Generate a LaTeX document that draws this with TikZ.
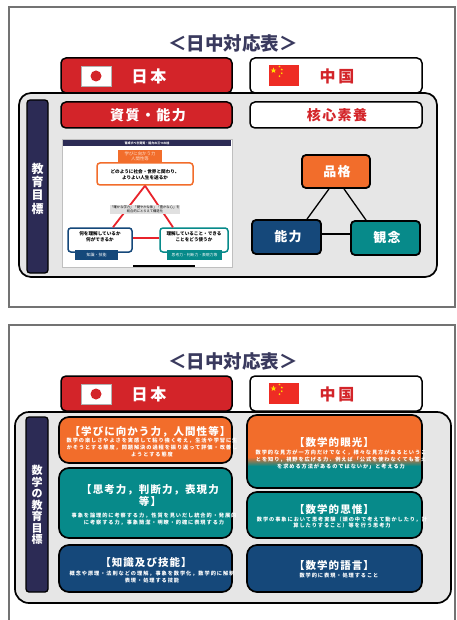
\documentclass[tikz,border=0pt]{standalone}
\usepackage{fontspec}
\setmainfont{Noto Sans CJK JP}
\newfontfamily\fsHead[LetterSpace=10]{Noto Sans CJK JP}
\newfontfamily\fsWide[LetterSpace=16]{Noto Sans CJK JP}
\newfontfamily\fsBody[LetterSpace=18]{Noto Sans CJK JP}
\usetikzlibrary{shapes.geometric}

\definecolor{jpred}{HTML}{D32429}
\definecolor{cnred}{HTML}{EE2C24}
\definecolor{cnstar}{HTML}{FFDE00}
\definecolor{orng}{HTML}{F26D2B}
\definecolor{tealc}{HTML}{078A8A}
\definecolor{navyb}{HTML}{15487A}
\definecolor{navyd}{HTML}{2C2B55}
\definecolor{panelc}{HTML}{E6E6E6}
\definecolor{titlec}{HTML}{3A3A5E}
\definecolor{slidered}{HTML}{E8232B}
\definecolor{peach}{HTML}{FFE3D0}

\tikzset{
  frame/.style={draw=black!55, line width=1.1pt},
  cbox/.style n args={2}{draw=black, line width=1.5pt, rounded corners=5pt,
    inner sep=0pt, minimum width=#1, minimum height=#2},
  pbox/.style n args={2}{draw=black, line width=1.7pt, rounded corners=10pt,
    inner sep=0pt, minimum width=#1, minimum height=#2},
  tbox/.style n args={2}{draw=black, line width=1.8pt, rounded corners=4pt,
    inner sep=0pt, minimum width=#1, minimum height=#2},
  lbl/.style={inner sep=0pt, align=center},
  bigtitle/.style={lbl, text=titlec, font=\bfseries\fontsize{18.5}{20}\selectfont},
  hdr/.style={lbl, font=\fsWide\bfseries\fontsize{16}{18}\selectfont},
  sub/.style={lbl, font=\fsHead\bfseries\fontsize{14}{16}\selectfont},
  tri/.style={lbl, text=white, font=\fsHead\bfseries\fontsize{13}{15}\selectfont},
  ttl/.style={lbl, text=white, font=\fsHead\bfseries\fontsize{10.5}{12}\selectfont},
  body/.style={lbl, text=white, font=\fsBody\bfseries\fontsize{5.2}{6.8}\selectfont},
  conn/.style={draw=black, line width=1.3pt},
  redln/.style={draw=slidered, line width=1.8pt},
  bigstar/.style={star, star points=5, star point ratio=2.5, fill=cnstar, inner sep=0pt, minimum size=6pt},
  smallstar/.style={star, star points=5, star point ratio=2.5, fill=cnstar, inner sep=0pt, minimum size=2.4pt},
}

\begin{document}
\begin{tikzpicture}[x=1pt,y=-1pt]
\useasboundingbox (0,0) rectangle (456,620);
\fill[white] (0,0) rectangle (456,620);

% ================= upper sheet =================
\draw[frame] (9,7) rectangle (455,307);
\node[bigtitle] (ttlA) at (233,43) {＜日中対応表＞};

% grey container with the two columns
\node[pbox={418}{184}, fill=panelc, rounded corners=12pt] (panA) at (228,185) {};

% country headers
\node[cbox={171}{35}, fill=jpred] (jpA) at (146.5,75.5) {};
\node[draw=black!30, fill=white, inner sep=0pt, minimum width=30, minimum height=20] (jpfA) at (96,76) {};
\node[circle, fill=jpred, inner sep=0pt, minimum size=11] (jpdA) at (jpfA.center) {};
\node[hdr, text=white] (jptA) at (149,76) {日本};

\node[cbox={172}{35}, fill=white] (cnA) at (336,75.5) {};
\node[fill=cnred, inner sep=0pt, minimum width=30, minimum height=21] (cnfA) at (284,75.5) {};
\node[bigstar] (csA0) at (273.5,70.5) {};
\node[smallstar] (csA1) at (279.5,66.5) {};
\node[smallstar] (csA2) at (281.8,69.5) {};
\node[smallstar] (csA3) at (281.8,73.2) {};
\node[smallstar] (csA4) at (279.5,76.2) {};
\node[hdr, text=jpred] (cntA) at (337,76) {中国};

% side label
\node[tbox={21}{173}, fill=navyd, line width=1.3pt, rounded corners=3pt] (barA) at (37.5,186.5) {};
\node[lbl, text=white, font=\bfseries\fontsize{12}{13.3}\selectfont] (vtA) at (37.5,188.5) {教\\育\\目\\標};

% column heads
\node[cbox={171}{26}, fill=jpred] (skA) at (146.5,115) {};
\node[sub, text=white] (sktA) at (148,115) {資質・能力};
\node[cbox={172}{26}, fill=white] (hxA) at (336,115) {};
\node[sub, text=jpred] (hxtA) at (337,115) {核心素養};

% slide of the three pillars
\node[draw=black!25, fill=white, inner sep=0pt, minimum width=170, minimum height=128] (slide) at (147,203) {};
\node[fill=navyd, inner sep=0pt, minimum width=168, minimum height=6] (slbar) at (147,143) {};
\node[lbl, text=white, font=\bfseries\fontsize{3}{3.5}\selectfont] (slttl) at (slbar) {育成すべき資質・能力の三つの柱};

\node[draw=orng, line width=1.5pt, rounded corners=3pt, fill=white, inner sep=0pt,
      minimum width=96, minimum height=22] (pq) at (145,174) {};
\node[fill=orng, inner sep=0pt, minimum width=44, minimum height=13] (pqtag) at (140,156.5) {};
\node[lbl, text=peach, font=\fontsize{4.4}{5.2}\selectfont] (pqtagt) at (pqtag) {学びに向かう力\\人間性等};
\node[lbl, font=\bfseries\fontsize{4.6}{6}\selectfont] (pqt) at (145,175) {どのように社会・世界と関わり、\\よりよい人生を送るか};

\node[draw=navyb, line width=1.5pt, rounded corners=3pt, fill=white, inner sep=0pt,
      minimum width=64, minimum height=24] (pk) at (100,240) {};
\node[lbl, font=\bfseries\fontsize{4.6}{6}\selectfont] (pkt) at (100,237) {何を理解しているか\\何ができるか};
\node[fill=navyb, inner sep=0pt, minimum width=43, minimum height=10] (pks) at (96.5,255) {};
\node[lbl, text=white, font=\fontsize{4}{5}\selectfont] (pkst) at (pks) {知識・技能};

\node[draw=tealc, line width=1.5pt, rounded corners=3pt, fill=white, inner sep=0pt,
      minimum width=68, minimum height=24] (pt) at (194,240) {};
\node[lbl, font=\bfseries\fontsize{4.6}{6}\selectfont] (ptt) at (194,237) {理解していること・できる\\ことをどう使うか};
\node[fill=tealc, inner sep=0pt, minimum width=55, minimum height=10] (pts) at (194.5,255) {};
\node[lbl, text=white, font=\fontsize{3.8}{5}\selectfont] (ptst) at (pts) {思考力・判断力・表現力等};

\draw[redln] (pq.south) -- ([xshift=13]pk.north);
\draw[redln] (pq.south) -- ([xshift=-21]pt.north);
\draw[redln] ([yshift=2]pk.east) -- ([yshift=2]pt.west);
\node[lbl, fill=black!12, inner sep=0.4pt, font=\fontsize{3.3}{4.2}\selectfont] (pmid) at (145,209.5)
  {「確かな学力」「健やかな体」「豊かな心」を\\総合的にとらえて構造化};
\node[fill=black, inner sep=0pt, minimum width=62, minimum height=2] (slscr) at (164,265.5) {};

% core competence triangle
\node[tbox={68}{33}, fill=orng] (hk) at (336,171.5) {};
\node[tri] (hkt) at (337,171.5) {品格};
\node[tbox={69}{34}, fill=navyb] (nr) at (286.5,237) {};
\node[tri] (nrt) at (288,237) {能力};
\node[tbox={69}{34}, fill=tealc] (kn) at (385.5,238) {};
\node[tri] (knt) at (387,238) {観念};
\draw[conn] ([xshift=-7]hk.south) -- ([xshift=20.5]nr.north);
\draw[conn] ([xshift=8]hk.south) -- ([xshift=-19.5]kn.north);
\draw[conn] ([yshift=3]nr.east) -- ([yshift=4]kn.west);

% ================= lower sheet =================
\draw[frame] (9,624) -- (9,325) -- (455,325) -- (455,624);
\node[bigtitle] (ttlB) at (233,361) {＜日中対応表＞};

\node[pbox={436}{191}, fill=panelc, rounded corners=14pt] (panB) at (233,507.5) {};

\node[cbox={171}{35}, fill=jpred] (jpB) at (146.5,393.5) {};
\node[draw=black!30, fill=white, inner sep=0pt, minimum width=30, minimum height=20] (jpfB) at (96,394) {};
\node[circle, fill=jpred, inner sep=0pt, minimum size=11] (jpdB) at (jpfB.center) {};
\node[hdr, text=white] (jptB) at (149,394) {日本};

\node[cbox={172}{35}, fill=white] (cnB) at (336,393.5) {};
\node[fill=cnred, inner sep=0pt, minimum width=30, minimum height=21] (cnfB) at (284,393.5) {};
\node[bigstar] (csB0) at (273.5,388.5) {};
\node[smallstar] (csB1) at (279.5,384.5) {};
\node[smallstar] (csB2) at (281.8,387.5) {};
\node[smallstar] (csB3) at (281.8,391.2) {};
\node[smallstar] (csB4) at (279.5,394.2) {};
\node[hdr, text=jpred] (cntB) at (337,394) {中国};

\node[tbox={22}{175}, fill=navyd, line width=1.3pt, rounded corners=3pt] (barB) at (37,504.5) {};
\node[lbl, text=white, font=\bfseries\fontsize{11}{11.5}\selectfont] (vtB) at (37,505) {数\\学\\の\\教\\育\\目\\標};

% Japanese side
\node[pbox={173}{46}, fill=orng] (jo) at (145.5,440) {};
\node[ttl] (jot) at (150,432) {【学びに向かう力，人間性等】};
\node[body] (job) at (152,447.5) {数学の楽しさやよさを実感して粘り強く考え，生活や学習に生\\かそうとする態度，問題解決の過程を振り返って評価・改善し\\ようとする態度};

\node[pbox={173}{70}, fill=tealc] (jt) at (145.5,503) {};
\node[ttl] (jtt) at (150,496) {【思考力，判断力，表現力\\等】};
\node[body] (jtb) at (154,519.5) {事象を論理的に考察する力，性質を見いだし統合的・発展的\\に考察する力，事象簡潔・明瞭・的確に表現する力};

\node[pbox={173}{47}, fill=navyb] (jn) at (145.5,568.5) {};
\node[ttl] (jnt) at (146,562) {【知識及び技能】};
\node[body] (jnb) at (152,577) {概念や原理・法則などの理解，事象を数学化，数学的に解釈\\表現・処理する技能};

% Chinese side
\begin{scope}
  \clip[rounded corners=10pt] (247,415) rectangle (422,488);
  \fill[orng] (247,415) rectangle (422,457.5);
  \shade[top color=orng, bottom color=tealc] (247,457) rectangle (422,466);
  \fill[tealc] (247,465.5) rectangle (422,488);
\end{scope}
\node[pbox={175}{73}] (cg) at (334.5,451.5) {};
\node[ttl] (cgt) at (334,442) {【数学的眼光】};
\node[body] (cgb) at (341,459.5) {数学的な見方が一方向だけでなく，様々な見方があるというこ\\とを知り，視野を広げる力．例えば「公式を使わなくても答え\\を求める方法があるのではないか」と考える力};

\node[pbox={175}{46}, fill=tealc] (ct) at (334.5,515) {};
\node[ttl] (ctt) at (334,509) {【数学的思惟】};
\node[body] (ctb) at (342,522.5) {数学の事象において思考実験（頭の中で考えて動かしたり，計\\算したりすること）等を行う思考力};

\node[pbox={175}{47}, fill=navyb] (cn) at (334.5,568.5) {};
\node[ttl] (cnt) at (334,565) {【数学的語言】};
\node[body] (cnb) at (339,576) {数学的に表現・処理すること};

\end{tikzpicture}
\end{document}
